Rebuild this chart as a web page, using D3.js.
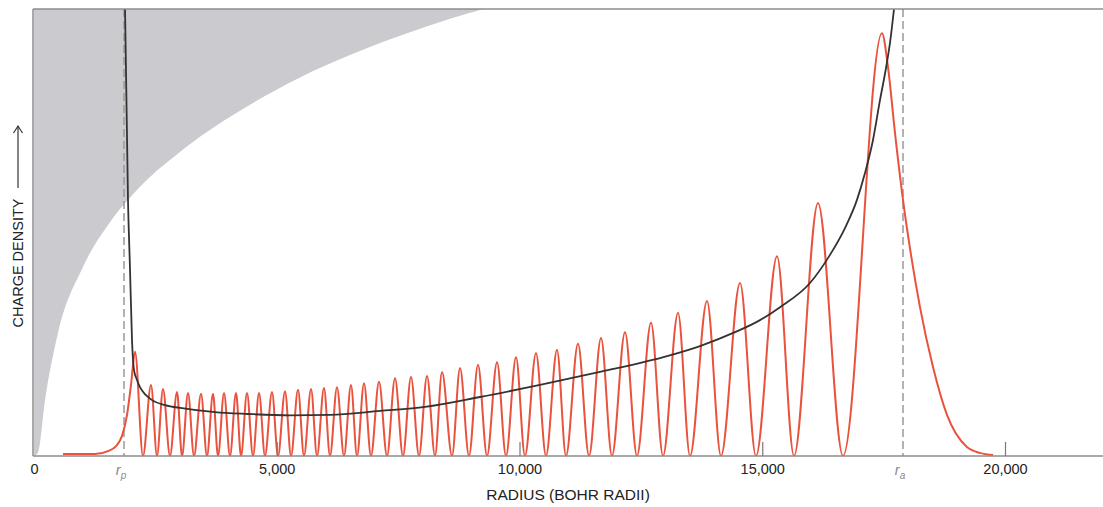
<!DOCTYPE html>
<html>
<head>
<meta charset="utf-8">
<script src="https://cdn.jsdelivr.net/npm/d3@7"></script>
<style>
  html, body { margin: 0; padding: 0; background: #fff; }
  svg { display: block; font-family: "Liberation Sans", Arial, Helvetica, sans-serif; }
</style>
</head>
<body>
<svg id="chart" width="1103" height="507"></svg>
<script>
// Radial charge density of a high-n Rydberg electron (arbitrary density units, radius in Bohr radii)

// Classical turning points
const perihelion = 1854;
const aphelion = 17899;

// X-axis tick values and labels
const tickRadius = [0, 5000, 10000, 15000, 20000];
const tickLabels = ["0", "5,000", "10,000", "15,000", "20,000"];

// Quantum density: rising tail inside the inner turning point
const leadRadius  = [598, 1257, 1524, 1689, 1813, 1916, 1998];
const leadDensity = [0.45, 0.45, 1.1, 2.2, 4.5, 9.2, 15.9];

// Quantum density: maxima
const peakRadius = [2080, 2410, 2657, 2946, 3172, 3440, 3687, 3914, 4161, 4387,
                    4635, 4902, 5170, 5438, 5706, 5973, 6241, 6529, 6797, 7106,
                    7436, 7765, 8095, 8404, 8775, 9145, 9537, 9928, 10340, 10772,
                    11205, 11679, 12173, 12709, 13265, 13862, 14542, 15304, 16148, 17466];
const peakDensity = [23.3, 15.9, 15.0, 14.3, 14.1, 13.9, 13.9, 14.1, 14.1, 14.1,
                     14.1, 14.3, 14.5, 14.8, 15.0, 15.2, 15.4, 15.9, 16.3, 16.6,
                     17.4, 17.7, 17.9, 18.8, 19.7, 20.4, 21.0, 22.1, 23.0, 23.7,
                     25.1, 26.4, 27.7, 29.8, 32.0, 34.7, 38.7, 44.7, 56.6, 94.6];

// Quantum density: nodes (density falls to zero)
const nodeRadius = [2245, 2534, 2801, 3049, 3296, 3563, 3790, 4037, 4264, 4511,
                    4758, 5026, 5294, 5561, 5829, 6097, 6385, 6653, 6941, 7271,
                    7600, 7930, 8260, 8610, 8960, 9331, 9722, 10113, 10546, 10958,
                    11432, 11905, 12420, 12956, 13512, 14150, 14871, 15654, 16663];

// Quantum density: decaying tail beyond the outer turning point
const tailRadius  = [17590, 17734, 17899, 18064, 18249, 18517, 18805, 19217, 19485, 19753];
const tailDensity = [87.0, 72.3, 57.3, 45.0, 33.3, 19.9, 9.2, 2.0, 0.7, 0.2];

// Classical density
const classicRadius = [1875, 1936, 1978, 2019, 2060, 2122, 2183, 2307, 2431, 2698,
                       3049, 3728, 4408, 5273, 6097, 7127, 8054, 9186, 10422, 11658,
                       13059, 13718, 14439, 14954, 15366, 15983, 16395, 16704, 16951, 17116,
                       17281, 17425, 17549, 17631, 17714];
const classicDensity = [100.0, 57.3, 41.6, 25.9, 19.2, 17.0, 15.4, 13.6, 12.5, 11.4,
                        10.7, 9.8, 9.4, 9.1, 9.2, 10.1, 11.0, 13.2, 15.9, 18.8,
                        22.4, 24.6, 27.7, 30.4, 33.3, 38.7, 45.0, 51.0, 57.3, 63.3,
                        70.7, 79.6, 86.8, 92.4, 100.0];

// Boundary of the shaded (forbidden) region
const shadeRadius  = [0, 82, 227, 494, 1009, 1565, 1936, 2389, 2904, 3419,
                      4449, 5479, 6509, 7539, 8568, 9260];
const shadeDensity = [0, 0.7, 12.5, 27.5, 42.3, 52.3, 57.3, 62.4, 67.1, 71.4,
                      78.6, 84.7, 89.7, 94.0, 97.8, 100];

const W = 1103, H = 507;
const plotLeft = 33, plotTop = 9, plotBottom = 456;

const x = d3.scaleLinear().domain([0, 20000]).range([34, 1005]);
const y = d3.scaleLinear().domain([0, 100]).range([plotBottom, plotTop]);

const svg = d3.select("#chart");

svg.append("defs").append("clipPath").attr("id", "plotClip")
  .append("rect").attr("x", plotLeft).attr("y", plotTop)
  .attr("width", W - plotLeft).attr("height", plotBottom - plotTop);

const plot = svg.append("g").attr("clip-path", "url(#plotClip)");

// Shaded region
const shade = shadeRadius.map((r, i) => [r, shadeDensity[i]]);
plot.append("path")
  .datum(shade)
  .attr("fill", "#cbcbcf")
  .attr("d", d3.area()
    .x(d => x(d[0]))
    .y0(y(100))
    .y1(d => y(d[1]))
    .curve(d3.curveMonotoneX));

// Turning point guides
[perihelion, aphelion].forEach(r => {
  plot.append("line")
    .attr("x1", x(r)).attr("x2", x(r))
    .attr("y1", plotTop).attr("y2", plotBottom)
    .attr("stroke", "#9a9a9a")
    .attr("stroke-width", 1.5)
    .attr("stroke-dasharray", "8,4");
});

// Quantum density curve
const quantum = [];
leadRadius.forEach((r, i) => quantum.push([r, leadDensity[i]]));
peakRadius.forEach((r, i) => {
  quantum.push([r, peakDensity[i]]);
  if (i < nodeRadius.length) quantum.push([nodeRadius[i], 0]);
});
tailRadius.forEach((r, i) => quantum.push([r, tailDensity[i]]));

plot.append("path")
  .datum(quantum)
  .attr("fill", "none")
  .attr("stroke", "#e9523d")
  .attr("stroke-width", 2)
  .attr("stroke-linejoin", "round")
  .attr("d", d3.line()
    .x(d => x(d[0]))
    .y(d => y(d[1]))
    .curve(d3.curveMonotoneX));

// Classical density curve
const classic = classicRadius.map((r, i) => [r, classicDensity[i]]);
plot.append("path")
  .datum(classic)
  .attr("fill", "none")
  .attr("stroke", "#333")
  .attr("stroke-width", 1.8)
  .attr("d", d3.line()
    .x(d => x(d[0]))
    .y(d => y(d[1]))
    .curve(d3.curveMonotoneX));

// Frame: top, left and baseline
const frame = svg.append("g").attr("stroke", "#8c8c8c").attr("stroke-width", 1.5).attr("fill", "none");
frame.append("line").attr("x1", plotLeft).attr("x2", W).attr("y1", plotTop).attr("y2", plotTop);
frame.append("line").attr("x1", plotLeft).attr("x2", plotLeft).attr("y1", plotTop).attr("y2", plotBottom);
frame.append("line").attr("x1", plotLeft).attr("x2", W).attr("y1", plotBottom).attr("y2", plotBottom);

// X axis
const axis = svg.append("g")
  .attr("transform", `translate(0,${plotBottom})`)
  .call(d3.axisBottom(x)
    .tickValues(tickRadius)
    .tickFormat((d, i) => tickLabels[i])
    .tickSize(-14)
    .tickPadding(8));
axis.select(".domain").remove();
axis.selectAll(".tick line").attr("stroke", "#777").attr("stroke-width", 1.2)
  .filter(d => d === 0).remove();
axis.selectAll(".tick text")
  .attr("fill", "#222")
  .style("font-size", "14.5px")
  .style("font-family", "'Liberation Sans', Arial, sans-serif");

// Turning point labels
[[perihelion, "p"], [aphelion, "a"]].forEach(([r, sub]) => {
  const t = svg.append("text")
    .attr("x", x(r) - 3)
    .attr("y", plotBottom + 19)
    .attr("text-anchor", "middle")
    .attr("fill", "#8a8a8a")
    .style("font-size", "14.5px")
    .style("font-style", "italic");
  t.append("tspan").text("r");
  t.append("tspan").attr("dy", 4).style("font-size", "10px").text(sub);
});

// Axis titles
svg.append("text")
  .attr("x", 568)
  .attr("y", 500)
  .attr("text-anchor", "middle")
  .attr("fill", "#222")
  .style("font-size", "15.5px")
  .text("RADIUS (BOHR RADII)");

svg.append("text")
  .attr("transform", "translate(23,263) rotate(-90)")
  .attr("text-anchor", "middle")
  .attr("fill", "#222")
  .style("font-size", "14.5px")
  .text("CHARGE DENSITY");

// Arrow beside the vertical title
const arrow = svg.append("g").attr("stroke", "#333").attr("stroke-width", 1.2).attr("fill", "none");
arrow.append("line").attr("x1", 18).attr("x2", 18).attr("y1", 188).attr("y2", 126);
arrow.append("path").attr("d", "M13.5,133 L18,126 L22.5,133");
</script>
</body>
</html>
